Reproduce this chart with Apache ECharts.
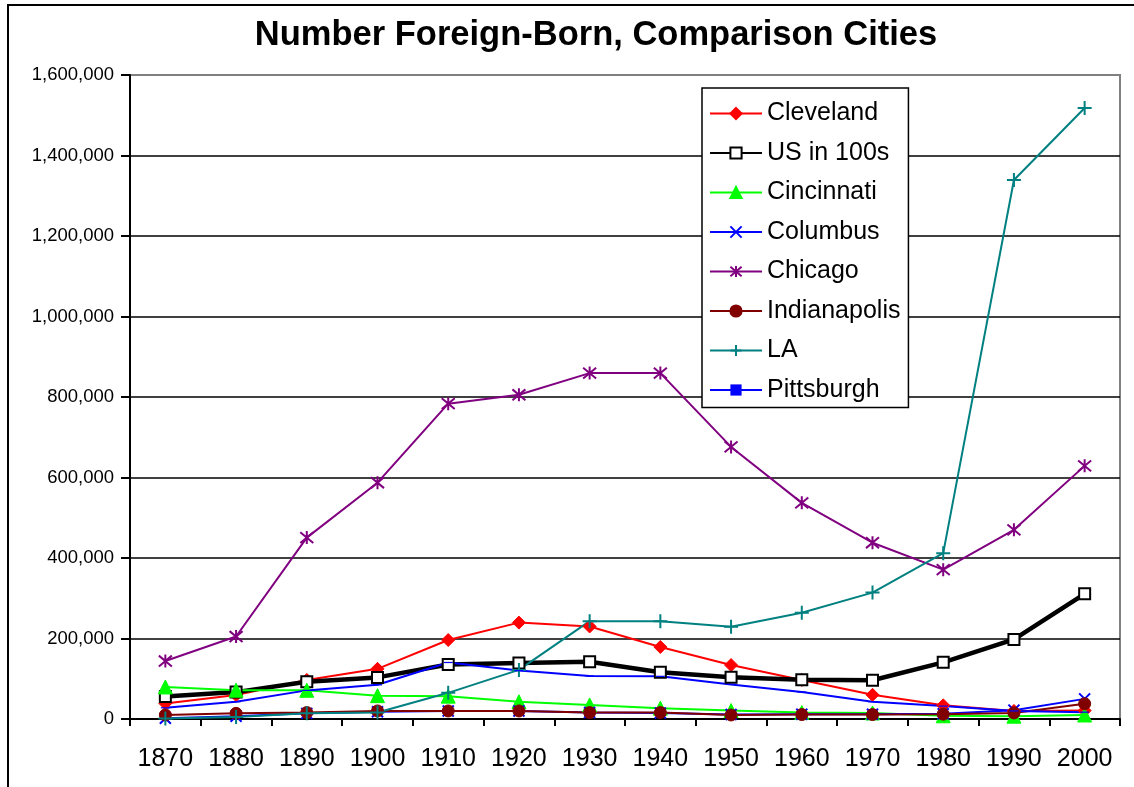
<!DOCTYPE html>
<html>
<head>
<meta charset="utf-8">
<script src="https://cdn.jsdelivr.net/npm/echarts@6/dist/echarts.min.js"></script>
<style>
html,body{margin:0;padding:0;background:#fff;}
#c{width:1134px;height:787px;}
</style>
</head>
<body>
<div id="c"></div>
<script>
const years = ['1870','1880','1890','1900','1910','1920','1930','1940','1950','1960','1970','1980','1990','2000'];
const yTicks = [0,200000,400000,600000,800000,1000000,1200000,1400000,1600000];
const cleveland    = [38800, 59400, 97100, 124600, 196200, 239500, 229900, 179000, 134000, 97000, 60000, 34000, 20000, 21000];
const usIn100s     = [55700, 66800, 92500, 103400, 135200, 139200, 142000, 116000, 103500, 97400, 96200, 140800, 197700, 311100];
const cincinnati   = [79600, 71700, 71400, 58000, 56800, 42800, 35000, 27000, 21000, 16000, 15000, 8000, 7000, 10000];
const columbus     = [2000, 7000, 14000, 18000, 20000, 20000, 16000, 15000, 11000, 12000, 12000, 13000, 22000, 50000];
const chicago      = [144000, 204900, 450700, 587100, 783400, 805500, 859400, 859400, 676000, 537000, 438000, 371000, 470000, 628900];
const indianapolis = [10000, 14000, 16000, 20000, 20000, 20000, 16000, 16000, 10000, 11000, 11000, 12000, 15000, 38000];
const la           = [1000, 5000, 14000, 16000, 65000, 122000, 243000, 243000, 229000, 264000, 314000, 412000, 1339000, 1518000];
const pittsburgh   = [27800, 43000, 71100, 84900, 140400, 120300, 107000, 106000, 86000, 67000, 43000, 32000, 20000, 17000];

const FONT = "'Liberation Sans', Arial, sans-serif";
const chart = echarts.init(document.getElementById('c'), null, {renderer:'canvas'});

function mk(name, data, color, symbol, size, lw, extra) {
  const s = {
    name: name, type: 'line', data: data,
    symbol: symbol, symbolSize: size, showSymbol: true,
    lineStyle: {color: color, width: lw},
    itemStyle: {color: color, borderColor: color, borderWidth: 1},
    emphasis: {disabled: true},
    animation: false
  };
  return Object.assign(s, extra || {});
}

const splitColors = yTicks.map((v,i)=> i === yTicks.length-1 ? '#808080' : '#000000');

chart.setOption({
  backgroundColor: '#ffffff',
  animation: false,
  title: {
    text: 'Number Foreign-Born, Comparison Cities',
    left: 591, top: 13, textAlign: 'center',
    textStyle: {fontFamily: FONT, fontSize: 34.5, fontWeight: 'bold', color: '#000'}
  },
  graphic: [{
    type: 'rect', silent: true, z: 100,
    shape: {x: 8, y: 5, width: 3000, height: 3000},
    style: {fill: 'none', stroke: '#000', lineWidth: 2}
  }],
  legend: {
    orient: 'vertical', left: 702, top: 88,
    backgroundColor: '#ffffff', borderColor: '#000', borderWidth: 1.5,
    padding: [13, 8, 5, 7],
    itemWidth: 52, itemHeight: 14, itemGap: 14.5,
    textStyle: {fontFamily: FONT, fontSize: 25, color: '#000'},
    data: ['Cleveland','US in 100s','Cincinnati','Columbus','Chicago','Indianapolis','LA','Pittsburgh']
  },
  grid: {
    left: 130, right: 14, top: 75, bottom: 68,
    show: true, borderColor: '#808080', borderWidth: 2, backgroundColor: 'transparent'
  },
  xAxis: {
    type: 'category', data: years, boundaryGap: true,
    axisLine: {lineStyle: {color: '#000', width: 2}},
    axisTick: {show: true, length: 7, lineStyle: {color: '#000', width: 2}, interval: 0},
    axisLabel: {fontFamily: FONT, fontSize: 25, color: '#000', margin: 28, interval: 0},
    splitLine: {show: false}
  },
  yAxis: {
    type: 'value', min: 0, max: 1600000, interval: 200000,
    axisLine: {show: true, lineStyle: {color: '#000', width: 2}},
    axisTick: {show: true, length: 9, lineStyle: {color: '#000', width: 2}},
    axisLabel: {fontFamily: FONT, fontSize: 18.5, color: '#000', margin: 16,
      formatter: v => v.toString().replace(/\B(?=(\d{3})+(?!\d))/g, ',')},
    splitLine: {show: true, lineStyle: {color: splitColors, width: 1.5}}
  },
  series: [
    mk('Cleveland', cleveland, '#FF0000', 'diamond', 13, 2),
    mk('US in 100s', usIn100s, '#000000', 'emptyRect', 11, 4.5, {itemStyle: {color: '#000', borderColor: '#000', borderWidth: 2.5}}),
    mk('Cincinnati', cincinnati, '#00FF00', 'triangle', 14, 2),
    mk('Columbus', columbus, '#0000FF', 'path://M0,0L10,10M10,0L0,10', 11, 2, {itemStyle: {color: '#0000FF', borderColor: '#0000FF', borderWidth: 2}}),
    mk('Chicago', chicago, '#800080', 'path://M0,0L10,10M10,0L0,10M5,-1L5,11', 13, 2, {itemStyle: {color: '#800080', borderColor: '#800080', borderWidth: 2}}),
    mk('Indianapolis', indianapolis, '#800000', 'circle', 12, 2),
    mk('LA', la, '#008080', 'path://M5,0L5,10M0,5L10,5', 14, 2, {itemStyle: {color: '#008080', borderColor: '#008080', borderWidth: 2}}),
    mk('Pittsburgh', pittsburgh, '#0000FF', 'path://M0,0L10,0L10,3.5L0,3.5Z', [9, 3.5], 2, {symbolKeepAspect: true, itemStyle: {color: '#0000FF', borderColor: '#0000FF', borderWidth: 0}})
  ]
});
</script>
</body>
</html>
